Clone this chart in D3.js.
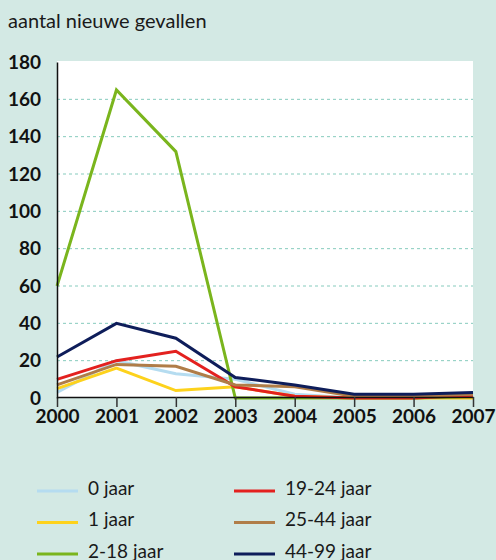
<!DOCTYPE html>
<html><head><meta charset="utf-8">
<script src="https://cdn.jsdelivr.net/npm/d3@7"></script>
<style>
html,body{margin:0;padding:0;background:#d3e9e4;}
svg{display:block;font-family:Lato,"Noto Sans",sans-serif;}
</style></head>
<body>
<svg id="chart" width="496" height="560"></svg>
<script>
const years = [2000, 2001, 2002, 2003, 2004, 2005, 2006, 2007];
const yTicks = [0, 20, 40, 60, 80, 100, 120, 140, 160, 180];
const seriesNames = ["0 jaar", "1 jaar", "2-18 jaar", "19-24 jaar", "25-44 jaar", "44-99 jaar"];
const seriesColors = ["#b5dcf0", "#fdd21c", "#7ab51d", "#e3211f", "#b07d48", "#0e1d5a"];
const v0 = [3, 20, 13, 10, 2, 0, 0, 1];
const v1 = [5, 16, 4, 6, 1, 0, 0, 0];
const v2 = [60, 165, 132, 0, 0, 0, 0, 1];
const v19 = [10, 20, 25, 6, 1, 0, 0, 1.5];
const v25 = [7, 18, 17, 7, 6, 1, 1, 2];
const v44 = [22, 40, 32, 11, 7, 2, 2, 3];
const seriesValues = [v0, v1, v2, v19, v25, v44];
const title = "aantal nieuwe gevallen";

const svg = d3.select("#chart");
const x = d3.scaleLinear().domain([2000, 2007]).range([57, 473]);
const y = d3.scaleLinear().domain([0, 180]).range([398, 62]);

svg.append("text").attr("x", 8).attr("y", 28).attr("font-size", 20).attr("fill", "#1a1a1a").text(title);

svg.append("rect").attr("x", 57).attr("y", 61).attr("width", 416).attr("height", 337).attr("fill", "#fff");

svg.append("g").selectAll("line").data(yTicks.filter(d => d > 0 && d < 180)).join("line")
  .attr("x1", 57).attr("x2", 473).attr("y1", d => y(d)).attr("y2", d => y(d))
  .attr("stroke", "#86cbbd").attr("stroke-width", 1).attr("stroke-dasharray", "3,3");

const line = d3.line().x((d, i) => x(years[i])).y(d => y(d));
svg.append("g").selectAll("path").data(seriesValues).join("path")
  .attr("d", d => line(d)).attr("fill", "none")
  .attr("stroke", (d, i) => seriesColors[i]).attr("stroke-width", 3).attr("stroke-linejoin", "miter");

// axes
const xAxis = d3.axisBottom(x).tickValues(years).tickFormat(d3.format("d")).tickSize(10).tickSizeOuter(0);
const gx = svg.append("g").attr("transform", "translate(0,397)").call(xAxis);
gx.select(".domain").attr("stroke", "#111").attr("stroke-width", 1.5);
gx.selectAll(".tick line").attr("stroke", "#333").attr("stroke-width", 1.5);
gx.selectAll(".tick text").attr("font-size", 19).attr("font-weight", "bold").attr("fill", "#111").attr("dy", "0.75em").attr("y", 12).attr("font-family", "Lato,sans-serif");

const yAxis = d3.axisLeft(y).tickValues(yTicks).tickSize(0).tickSizeOuter(0).tickPadding(16);
const gy = svg.append("g").attr("transform", "translate(57,0)").call(yAxis);
gy.select(".domain").attr("stroke", "#111").attr("stroke-width", 1.5);
gy.selectAll(".tick text").attr("font-size", 19).attr("font-weight", "bold").attr("fill", "#111").attr("font-family", "Lato,sans-serif");

// legend
const lg = svg.append("g").selectAll("g").data(seriesNames).join("g")
  .attr("transform", (d, i) => `translate(${i < 3 ? 37 : 234},${488 + (i % 3) * 31.5})`);
lg.append("line").attr("x1", 0).attr("x2", 41).attr("y1", 3).attr("y2", 3)
  .attr("stroke", (d, i) => seriesColors[i]).attr("stroke-width", 3);
lg.append("text").attr("x", 51).attr("y", 0).attr("dy", "0.35em").attr("font-size", 19).attr("fill", "#1a1a1a").text(d => d);
</script>
</body></html>
